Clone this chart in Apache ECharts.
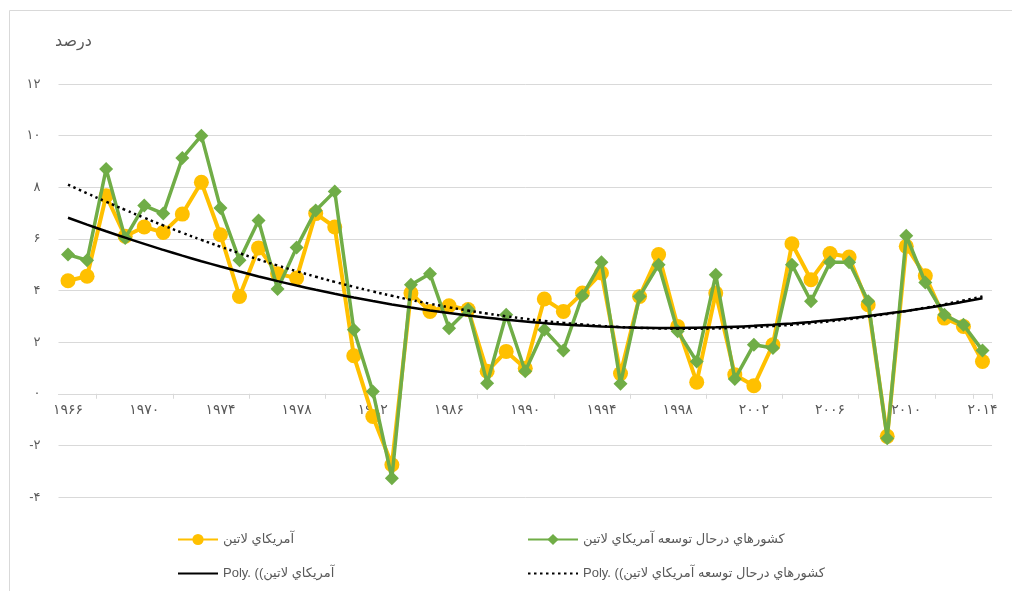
<!DOCTYPE html>
<html>
<head>
<meta charset="utf-8">
<script src="https://cdn.jsdelivr.net/npm/echarts@6/dist/echarts.min.js"></script>
<style>
  html, body { margin: 0; padding: 0; background: #fff; }
  #chart { width: 1012px; height: 591px; }
</style>
</head>
<body>
<div id="chart"></div>
<script>
var years = [];
for (var y = 1966; y <= 2014; y++) { years.push(y); }

// آمريكاي لاتين
var latinAmerica = [
  4.38, 4.55, 7.67, 6.10, 6.46, 6.25, 6.96, 8.19, 6.16, 3.77,
  5.65, 4.65, 4.48, 6.98, 6.46, 1.47, -0.88, -2.75, 3.90, 3.19,
  3.41, 3.26, 0.87, 1.64, 0.99, 3.67, 3.19, 3.90, 4.68, 0.78,
  3.77, 5.39, 2.61, 0.45, 3.90, 0.74, 0.31, 1.90, 5.81, 4.42,
  5.43, 5.30, 3.45, -1.65, 5.71, 4.57, 2.93, 2.61, 1.25
];

// كشورهاي درحال توسعه آمريكاي لاتين
var developingLA = [
  5.39, 5.17, 8.71, 6.03, 7.29, 6.98, 9.13, 10.0, 7.20, 5.17,
  6.71, 4.06, 5.67, 7.10, 7.84, 2.48, 0.09, -3.27, 4.22, 4.65,
  2.54, 3.26, 0.41, 3.06, 0.87, 2.48, 1.68, 3.80, 5.09, 0.39,
  3.77, 5.00, 2.42, 1.25, 4.61, 0.57, 1.90, 1.77, 5.00, 3.58,
  5.09, 5.09, 3.58, -1.72, 6.12, 4.31, 3.06, 2.67, 1.68
];

var yTicks = { min: -4, max: 12, step: 2 };

var nameLA = 'آمريكاي لاتين';
var nameDev = 'كشورهاي درحال توسعه آمريكاي لاتين';
var nameTrendLA = 'Poly. ((' + nameLA;
var nameTrendDev = 'Poly. ((' + nameDev;

function toFa(v) {
  var d = '۰۱۲۳۴۵۶۷۸۹';
  return String(v).replace(/[0-9]/g, function (c) { return d[+c]; });
}

// polynomial (order 2) trendline, like Excel's Poly. trendline
function polyTrend(vals) {
  var n = vals.length, s = [0, 0, 0, 0, 0], t = [0, 0, 0];
  for (var i = 0; i < n; i++) {
    var x = i + 1, p = 1;
    for (var k = 0; k < 5; k++) { s[k] += p; if (k < 3) t[k] += p * vals[i]; p *= x; }
  }
  var m = [[s[0], s[1], s[2], t[0]], [s[1], s[2], s[3], t[1]], [s[2], s[3], s[4], t[2]]];
  for (var c = 0; c < 3; c++) {
    for (var r = c + 1; r < 3; r++) {
      var f = m[r][c] / m[c][c];
      for (var j = c; j < 4; j++) { m[r][j] -= f * m[c][j]; }
    }
  }
  var b = [0, 0, 0];
  for (var r2 = 2; r2 >= 0; r2--) {
    var sum = m[r2][3];
    for (var j2 = r2 + 1; j2 < 3; j2++) { sum -= m[r2][j2] * b[j2]; }
    b[r2] = sum / m[r2][r2];
  }
  return vals.map(function (v, i) {
    var x = i + 1;
    return +(b[0] + b[1] * x + b[2] * x * x).toFixed(3);
  });
}

var font = '"Liberation Sans", "DejaVu Sans", sans-serif';
var textColor = '#595959';
var gridTop = 84, gridBottom = 94;
// x axis sits on the zero line, so shift it up from the bottom edge
var plotH = 591 - gridTop - gridBottom;
var zeroOffset = -plotH * (0 - yTicks.min) / (yTicks.max - yTicks.min);

var chart = echarts.init(document.getElementById('chart'));
var option = {
  animation: false,
  textStyle: { fontFamily: font },
  graphic: [
    {
      type: 'rect', left: 7, top: 8,
      shape: { width: 1003, height: 581 },
      style: { fill: 'none', stroke: '#D9D9D9', lineWidth: 1 }
    },
    {
      type: 'text', left: 55, top: 34,
      style: { text: 'درصد', fill: textColor, font: '16px ' + font }
    }
  ],
  grid: { left: 58.5, right: 20, top: gridTop, bottom: gridBottom, containLabel: false },
  legend: [
    {
      orient: 'vertical', left: 172, top: 528, itemGap: 21,
      itemWidth: 40, itemHeight: 14,
      textStyle: { color: textColor, fontSize: 13, fontFamily: font },
      data: [nameLA, { name: nameTrendLA, itemStyle: { opacity: 0 } }]
    },
    {
      orient: 'vertical', left: 522, top: 528, itemGap: 21,
      itemWidth: 50, itemHeight: 14,
      textStyle: { color: textColor, fontSize: 13, fontFamily: font },
      data: [nameDev, { name: nameTrendDev, itemStyle: { opacity: 0 } }]
    }
  ],
  xAxis: {
    type: 'category',
    data: years,
    boundaryGap: true,
    offset: zeroOffset,
    axisLine: { onZero: false, lineStyle: { color: '#D9D9D9', width: 1 } },
    axisTick: {
      show: true, length: 5,
      interval: function (i) { return i % 4 === 2 || i === 48; },
      lineStyle: { color: '#D9D9D9' }
    },
    axisLabel: {
      interval: function (i) { return i % 4 === 0; },
      color: textColor, fontSize: 14, margin: 9,
      formatter: function (v) { return toFa(v); }
    },
    splitLine: { show: false }
  },
  yAxis: {
    type: 'value',
    min: yTicks.min, max: yTicks.max, interval: yTicks.step,
    axisLine: { show: false },
    axisTick: { show: false },
    axisLabel: {
      color: textColor, fontSize: 13, margin: 18,
      formatter: function (v) { return (v < 0 ? '-' : '') + toFa(Math.abs(v)); }
    },
    splitLine: { lineStyle: { color: '#D9D9D9', width: 1 } }
  },
  series: [
    {
      name: nameLA, type: 'line', data: latinAmerica,
      symbol: 'circle', symbolSize: 15, showAllSymbol: true,
      itemStyle: { color: '#FFC000' },
      lineStyle: { color: '#FFC000', width: 4 },
      z: 2
    },
    {
      name: nameDev, type: 'line', data: developingLA,
      symbol: 'diamond', symbolSize: 14, showAllSymbol: true,
      itemStyle: { color: '#70AD47' },
      lineStyle: { color: '#70AD47', width: 3.5 },
      z: 3
    },
    {
      name: nameTrendLA, type: 'line', data: polyTrend(latinAmerica),
      symbol: 'none', smooth: true,
      itemStyle: { color: '#000' },
      lineStyle: { color: '#000', width: 2.5 },
      z: 4
    },
    {
      name: nameTrendDev, type: 'line', data: polyTrend(developingLA),
      symbol: 'none', smooth: true,
      itemStyle: { color: '#000' },
      lineStyle: { color: '#000', width: 2.5, type: [2.5, 3.5] },
      z: 4
    }
  ]
};
chart.setOption(option);
</script>
</body>
</html>
